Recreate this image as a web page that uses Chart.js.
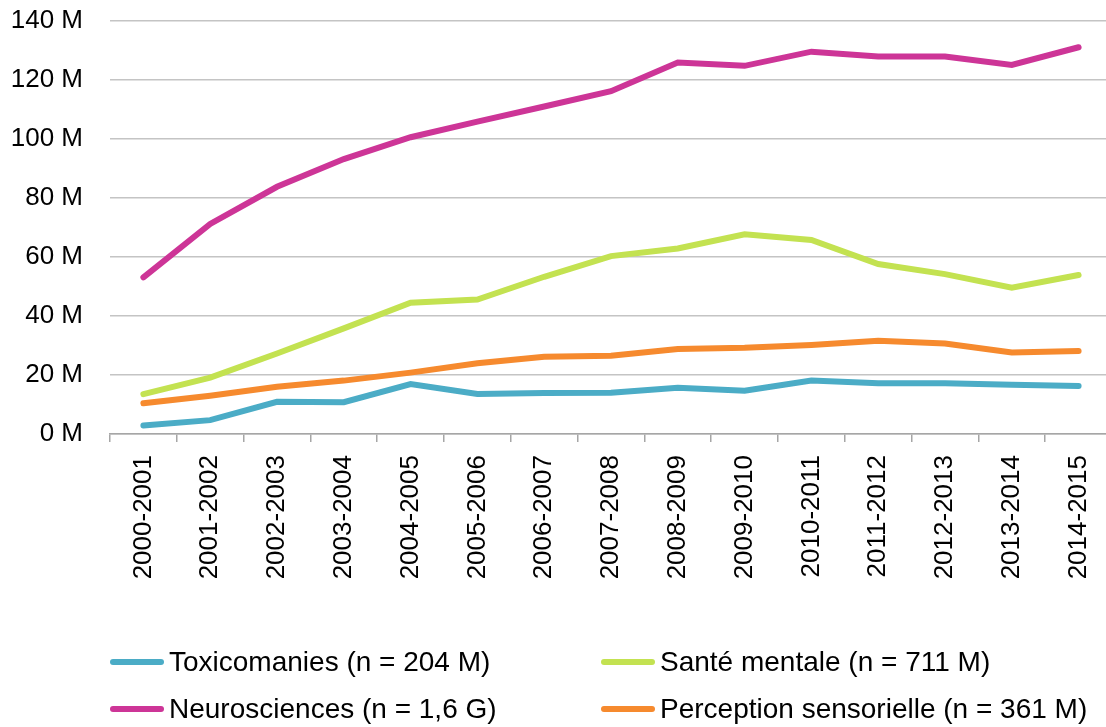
<!DOCTYPE html>
<html lang="fr">
<head>
<meta charset="utf-8">
<script src="https://cdn.jsdelivr.net/npm/chart.js@4/dist/chart.umd.min.js"></script>
<style>
  html, body { margin: 0; padding: 0; background: #fff; overflow: hidden; }
  #wrap { position: relative; width: 1106px; height: 727px; overflow: hidden; }
  #chart { position: absolute; left: 0; top: 0; }
  #legend { position: absolute; left: 0; top: 0; width: 100%; height: 100%; pointer-events: none; }
  .item { position: absolute; display: flex; align-items: center; height: 34px;
          font: 28px 'Liberation Sans', Arial, sans-serif; color: #000; white-space: nowrap; }
  .swatch { display: inline-block; width: 54px; height: 6px; border-radius: 3px; margin-right: 5px; }
</style>
</head>
<body>
<div id="wrap">
  <canvas id="chart" width="1112" height="727"></canvas>
  <div id="legend"></div>
</div>
<script>
// categories (fiscal years)
const years = ['2000-2001', '2001-2002', '2002-2003', '2003-2004', '2004-2005',
  '2005-2006', '2006-2007', '2007-2008', '2008-2009', '2009-2010',
  '2010-2011', '2011-2012', '2012-2013', '2013-2014', '2014-2015'];

// values in millions
const toxicomanies = [2.9, 4.7, 10.9, 10.8, 16.9, 13.6, 13.9, 14.0, 15.7, 14.7, 18.1, 17.2, 17.2, 16.7, 16.3];
const santeMentale = [13.5, 19.1, 27.3, 35.8, 44.5, 45.6, 53.3, 60.3, 62.9, 67.7, 65.8, 57.6, 54.2, 49.6, 53.9];
const neurosciences = [53.1, 71.2, 83.8, 93.2, 100.6, 105.9, 111.0, 116.2, 125.9, 124.8, 129.6, 128.0, 128.0, 125.1, 131.1];
const perception = [10.4, 13.0, 16.0, 18.1, 20.8, 24.0, 26.2, 26.5, 28.8, 29.2, 30.2, 31.6, 30.7, 27.6, 28.1];

const seriesNames = ['Toxicomanies (n = 204 M)', 'Santé mentale (n = 711 M)',
  'Neurosciences (n = 1,6 G)', 'Perception sensorielle (n = 361 M)'];
const seriesColors = ['#4bacc6', '#c3e251', '#cd3597', '#f68a2e'];

const font = "'Liberation Sans', Arial, sans-serif";
const axisGray = '#a6a6a6';

function lineSet(label, data, color) {
  return {
    label, data,
    borderColor: color,
    backgroundColor: color,
    borderWidth: 6,
    borderCapStyle: 'round',
    pointRadius: 0,
    tension: 0,
    fill: false
  };
}

const ctx = document.getElementById('chart').getContext('2d');
const chart = new Chart(ctx, {
  type: 'line',
  data: {
    labels: years,
    datasets: [
      lineSet(seriesNames[0], toxicomanies, seriesColors[0]),
      lineSet(seriesNames[1], santeMentale, seriesColors[1]),
      lineSet(seriesNames[2], neurosciences, seriesColors[2]),
      lineSet(seriesNames[3], perception, seriesColors[3])
    ]
  },
  options: {
    responsive: false,
    animation: false,
    layout: { padding: { top: 21, left: 0, right: 0, bottom: 0 } },
    plugins: {
      legend: { display: false },
      tooltip: { enabled: false }
    },
    scales: {
      x: {
        offset: true,
        grid: { offset: true, drawOnChartArea: false, drawTicks: true, tickLength: 8, color: axisGray, lineWidth: 1.5 },
        border: { display: true, color: axisGray, width: 1.5 },
        ticks: { color: '#000', font: { family: font, size: 26 }, minRotation: 90, maxRotation: 90, padding: 13, autoSkip: false },
        afterFit(scale) {
          scale.height = 293;
          scale.paddingLeft = 0;
          scale.paddingRight = 0;
        }
      },
      y: {
        min: 0, max: 140,
        grid: { color: '#c4c4c4', lineWidth: 1.5, drawTicks: false },
        border: { display: false },
        ticks: {
          stepSize: 20, color: '#000', padding: 27,
          font: { family: font, size: 26 },
          callback: v => v + ' M'
        },
        afterFit(scale) {
          scale.width = 110;
          scale.paddingTop = 0;
          scale.paddingBottom = 0;
        }
      }
    }
  }
});

// 2 x 2 legend built from the chart datasets
const legend = document.getElementById('legend');
const spots = [[110, 645], [601, 645], [110, 692], [601, 692]];
chart.data.datasets.forEach((ds, i) => {
  const item = document.createElement('div');
  item.className = 'item';
  item.style.left = spots[i][0] + 'px';
  item.style.top = spots[i][1] + 'px';
  const sw = document.createElement('span');
  sw.className = 'swatch';
  sw.style.background = ds.borderColor;
  item.appendChild(sw);
  item.appendChild(document.createTextNode(ds.label));
  legend.appendChild(item);
});
</script>
</body>
</html>
